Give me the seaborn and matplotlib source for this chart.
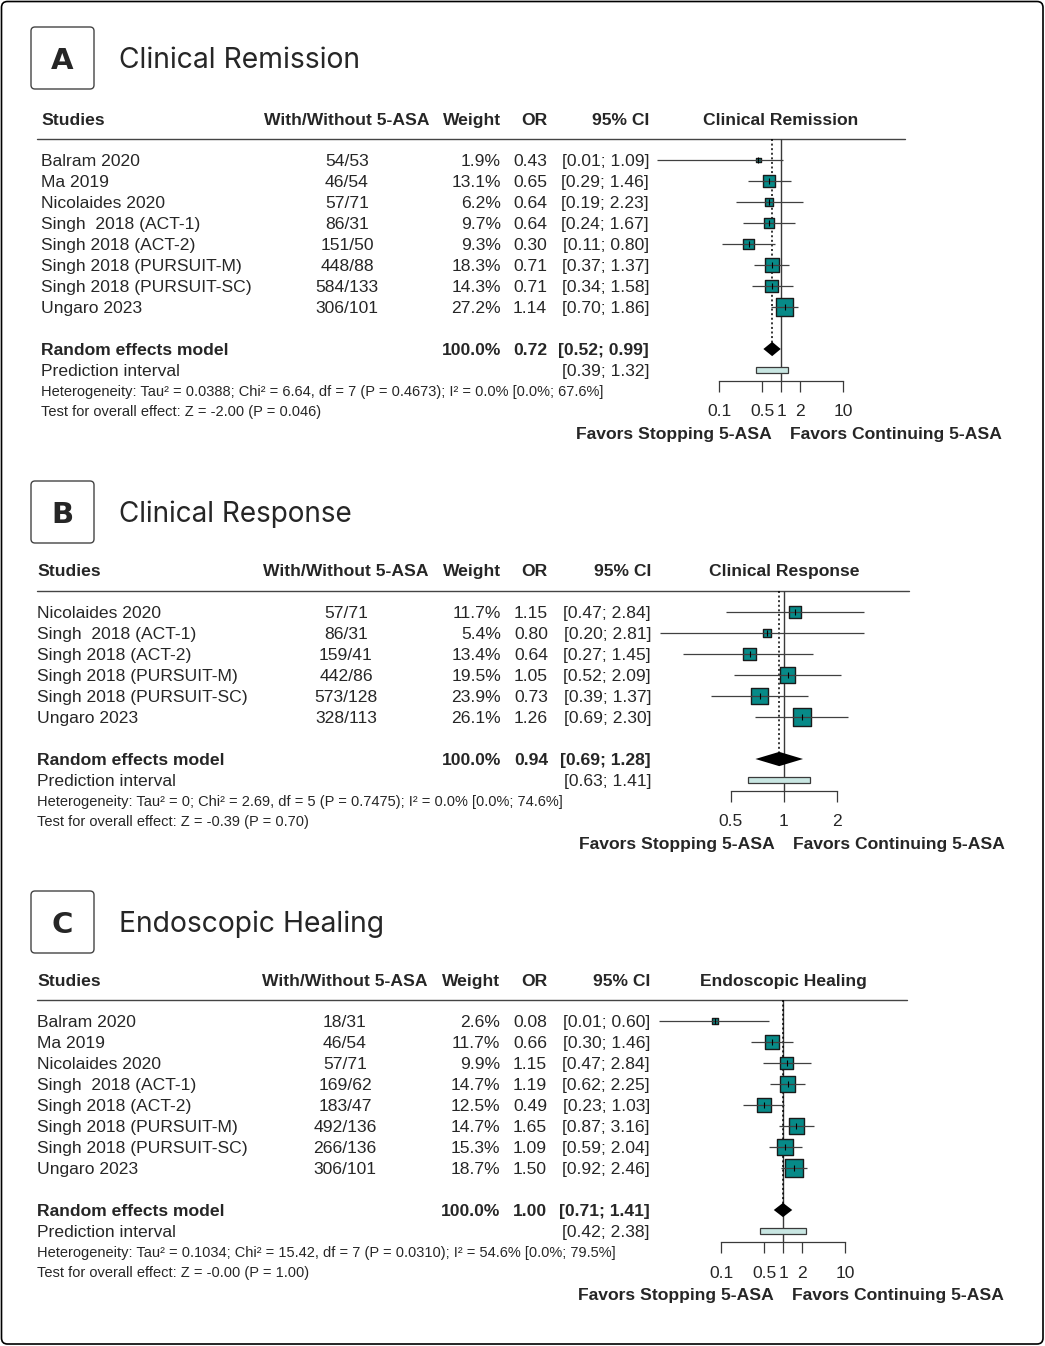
import numpy as np
import pandas as pd
import matplotlib
matplotlib.use("Agg")
import matplotlib.pyplot as plt
from matplotlib.patches import FancyBboxPatch, Rectangle
from matplotlib.ticker import NullLocator
import seaborn as sns

sns.set_theme(style="white")
plt.rcParams['font.family'] = ['Liberation Sans', 'DejaVu Sans']

# ---------------- DATA ----------------
studies_A = ["Balram 2020", "Ma 2019", "Nicolaides 2020", "Singh  2018 (ACT-1)", "Singh 2018 (ACT-2)",
             "Singh 2018 (PURSUIT-M)", "Singh 2018 (PURSUIT-SC)", "Ungaro 2023"]
n_A = ["54/53", "46/54", "57/71", "86/31", "151/50", "448/88", "584/133", "306/101"]
w_A = [1.9, 13.1, 6.2, 9.7, 9.3, 18.3, 14.3, 27.2]
or_A = [0.43, 0.65, 0.64, 0.64, 0.30, 0.71, 0.71, 1.14]
lo_A = [0.01, 0.29, 0.19, 0.24, 0.11, 0.37, 0.34, 0.70]
hi_A = [1.09, 1.46, 2.23, 1.67, 0.80, 1.37, 1.58, 1.86]
pooled_A = [0.72, 0.52, 0.99]
pi_A = [0.39, 1.32]
het_A = "Heterogeneity: Tau² = 0.0388; Chi² = 6.64, df = 7 (P = 0.4673); I² = 0.0% [0.0%; 67.6%]"
test_A = "Test for overall effect: Z = -2.00 (P = 0.046)"

studies_B = ["Nicolaides 2020", "Singh  2018 (ACT-1)", "Singh 2018 (ACT-2)", "Singh 2018 (PURSUIT-M)",
             "Singh 2018 (PURSUIT-SC)", "Ungaro 2023"]
n_B = ["57/71", "86/31", "159/41", "442/86", "573/128", "328/113"]
w_B = [11.7, 5.4, 13.4, 19.5, 23.9, 26.1]
or_B = [1.15, 0.80, 0.64, 1.05, 0.73, 1.26]
lo_B = [0.47, 0.20, 0.27, 0.52, 0.39, 0.69]
hi_B = [2.84, 2.81, 1.45, 2.09, 1.37, 2.30]
pooled_B = [0.94, 0.69, 1.28]
pi_B = [0.63, 1.41]
het_B = "Heterogeneity: Tau² = 0; Chi² = 2.69, df = 5 (P = 0.7475); I² = 0.0% [0.0%; 74.6%]"
test_B = "Test for overall effect: Z = -0.39 (P = 0.70)"

studies_C = ["Balram 2020", "Ma 2019", "Nicolaides 2020", "Singh  2018 (ACT-1)", "Singh 2018 (ACT-2)",
             "Singh 2018 (PURSUIT-M)", "Singh 2018 (PURSUIT-SC)", "Ungaro 2023"]
n_C = ["18/31", "46/54", "57/71", "169/62", "183/47", "492/136", "266/136", "306/101"]
w_C = [2.6, 11.7, 9.9, 14.7, 12.5, 14.7, 15.3, 18.7]
or_C = [0.08, 0.66, 1.15, 1.19, 0.49, 1.65, 1.09, 1.50]
lo_C = [0.01, 0.30, 0.47, 0.62, 0.23, 0.87, 0.59, 0.92]
hi_C = [0.60, 1.46, 2.84, 2.25, 1.03, 3.16, 2.04, 2.46]
pooled_C = [1.00, 0.71, 1.41]
pi_C = [0.42, 2.38]
het_C = "Heterogeneity: Tau² = 0.1034; Chi² = 15.42, df = 7 (P = 0.0310); I² = 54.6% [0.0%; 79.5%]"
test_C = "Test for overall effect: Z = -0.00 (P = 1.00)"

letters = ["A", "B", "C"]
titles = ["Clinical Remission", "Clinical Response", "Endoscopic Healing"]
ticks_wide = [0.1, 0.5, 1, 2, 10]
ticklabels_wide = ["0.1", "0.5", "1", "2", "10"]
ticks_narrow = [0.5, 1, 2]
ticklabels_narrow = ["0.5", "1", "2"]
col_headers = ["Studies", "With/Without 5-ASA", "Weight", "OR", "95% CI"]
label_left = "Favors Stopping 5-ASA"
label_right = "Favors Continuing 5-ASA"

# ---------------- STYLE / LAYOUT ----------------
W, H, DPI = 1045, 1346, 100
FS = 12.6
FS_SMALL = 10.5
TEAL = "#078a88"
PI_FILL = "#c8e6e2"
LINE = "#3a3a3a"
ROW = 21.0

layouts = [
    dict(box_top=27, header_y=119, row0=160, name_x=41, n_x=347, w_x=501, or_x=547, ci_x=649,
         x_one=781, line_right=905, xlim=(0.01, 100)),
    dict(box_top=481, header_y=570, row0=612, name_x=37, n_x=346, w_x=501, or_x=548, ci_x=651,
         x_one=784, line_right=909, xlim=(0.2, 5)),
    dict(box_top=891, header_y=980, row0=1021, name_x=37, n_x=345, w_x=500, or_x=547, ci_x=650,
         x_one=783, line_right=907, xlim=(0.01, 100)),
]

fig = plt.figure(figsize=(W / DPI, H / DPI), dpi=DPI)
bg = fig.add_axes([0, 0, 1, 1])
bg.set_xlim(0, W)
bg.set_ylim(H, 0)
bg.axis('off')

# outer border
bg.add_patch(FancyBboxPatch((1.5, 1.5), W - 3.5, H - 3.5, boxstyle="round,pad=0,rounding_size=6",
                            fc="none", ec="black", lw=1.2))

def px2pt(px):
    return px * 72.0 / DPI

def txt(x, y, s, ha="left", bold=False, size=FS, **kw):
    # y is visual centre of the capital letters
    off = 0.36 * size * DPI / 72.0
    return bg.text(x, y + off, s, ha=ha, va="baseline", fontsize=size,
                   fontweight="bold" if bold else "normal", **kw)

renderer = fig.canvas.get_renderer()

panels = [
    (studies_A, n_A, w_A, or_A, lo_A, hi_A, pooled_A, pi_A, het_A, test_A, ticks_wide, ticklabels_wide),
    (studies_B, n_B, w_B, or_B, lo_B, hi_B, pooled_B, pi_B, het_B, test_B, ticks_narrow, ticklabels_narrow),
    (studies_C, n_C, w_C, or_C, lo_C, hi_C, pooled_C, pi_C, het_C, test_C, ticks_wide, ticklabels_wide),
]

for k, (studies, nn, ww, orv, lo, hi, pooled, pi, het, test, ticks, tlabels) in enumerate(panels):
    L = layouts[k]
    n = len(studies)
    # letter box + title
    bt = L["box_top"]
    bg.add_patch(FancyBboxPatch((31, bt), 63, 62, boxstyle="round,pad=0,rounding_size=4",
                                fc="white", ec="#444444", lw=1.0))
    bg.text(62.5, bt + 31 + 11, letters[k], ha="center", va="baseline", fontsize=21,
            fontweight="bold", family=["DejaVu Sans"])
    tt = bg.text(119, bt + 31 + 10, titles[k], ha="left", va="baseline", fontsize=20,
                 family=["Inter", "DejaVu Sans"], fontweight="normal")
    target = {0: 241, 1: 233, 2: 265}[k]
    wpx = tt.get_window_extent(renderer=renderer).width
    tt.set_fontsize(20 * target / wpx)

    # header
    hy = L["header_y"]
    txt(L["name_x"], hy, col_headers[0], bold=True)
    txt(L["n_x"], hy, col_headers[1], ha="center", bold=True)
    txt(L["w_x"], hy, col_headers[2], ha="right", bold=True)
    txt(L["or_x"], hy, col_headers[3], ha="right", bold=True)
    txt(L["ci_x"], hy, col_headers[4], ha="right", bold=True)
    txt(L["x_one"], hy, titles[k], ha="center", bold=True)
    r0 = L["row0"]
    bg.plot([37, L["line_right"]], [r0 - ROW, r0 - ROW], color="#444444", lw=1.0)

    # study rows
    for i in range(n):
        y = r0 + ROW * i
        txt(L["name_x"], y, studies[i])
        txt(L["n_x"], y, nn[i], ha="center")
        txt(L["w_x"], y, f"{ww[i]:.1f}%", ha="right")
        txt(L["or_x"], y, f"{orv[i]:.2f}", ha="right")
        txt(L["ci_x"], y, f"[{lo[i]:.2f}; {hi[i]:.2f}]", ha="right")
    yr = r0 + ROW * (n + 1)
    txt(L["name_x"], yr, "Random effects model", bold=True)
    txt(L["w_x"], yr, "100.0%", ha="right", bold=True)
    txt(L["or_x"], yr, f"{pooled[0]:.2f}", ha="right", bold=True)
    txt(L["ci_x"], yr, f"[{pooled[1]:.2f}; {pooled[2]:.2f}]", ha="right", bold=True)
    yp = r0 + ROW * (n + 2)
    txt(L["name_x"], yp, "Prediction interval")
    txt(L["ci_x"], yp, f"[{pi[0]:.2f}; {pi[1]:.2f}]", ha="right")
    txt(L["name_x"], yp + ROW, het, size=FS_SMALL)
    txt(L["name_x"], yp + 2 * ROW - 1, test, size=FS_SMALL)
    txt(L["x_one"] - 9, yp + 63, label_left, ha="right", bold=True)
    txt(L["x_one"] + 9, yp + 63, label_right, ha="left", bold=True)

    # forest axes
    left = L["x_one"] - 124
    top = r0 - ROW
    bottom = r0 + ROW * (n + 2.5)
    ax = fig.add_axes([left / W, 1 - bottom / H, 248 / W, (bottom - top) / H])
    ax.patch.set_alpha(0)
    ax.set_xscale("log")
    df = pd.DataFrame({"or": orv, "lo": lo, "hi": hi, "w": ww, "row": np.arange(n)})
    sizes = (px2pt(17.5) ** 2) * df["w"] / df["w"].max()
    sns.scatterplot(data=df, x="or", y="row", marker="s", s=sizes.values, color=TEAL,
                    edgecolor="#1a1a1a", linewidth=1.0, ax=ax, zorder=3, legend=False)
    ax.hlines(df["row"], df["lo"], df["hi"], color="#404040", lw=0.9, zorder=4)
    ax.scatter(df["or"], df["row"], marker="|", s=px2pt(6) ** 2, color="black", lw=0.8, zorder=5)
    ax.axvline(1, color=LINE, lw=1.0, zorder=2)
    ax.vlines(pooled[0], -1, n + 1, color="black", lw=1.1, linestyles=(0, (1.3, 1.7)), zorder=2)
    dh = 0.34
    ax.fill([pooled[1], pooled[0], pooled[2], pooled[0]],
            [n + 1, n + 1 - dh, n + 1, n + 1 + dh], color="black", zorder=4, lw=0)
    ax.add_patch(Rectangle((pi[0], n + 2 - 0.13), pi[1] - pi[0], 0.26, fc=PI_FILL,
                           ec=LINE, lw=0.9, zorder=4))
    ax.set_xlim(*L["xlim"])
    ax.set_ylim(n + 2.5, -1)
    ax.set_xlabel("")
    ax.set_ylabel("")
    ax.set_yticks([])
    ax.set_xticks(ticks)
    ax.set_xticklabels(tlabels)
    ax.xaxis.set_minor_locator(NullLocator())
    ax.tick_params(axis="x", which="major", length=px2pt(11), width=0.9, direction="out",
                   pad=px2pt(13), labelsize=FS, color=LINE, bottom=True)
    for s in ["top", "left", "right"]:
        ax.spines[s].set_visible(False)
    ax.spines["bottom"].set_bounds(ticks[0], ticks[-1])
    ax.spines["bottom"].set_color(LINE)
    ax.spines["bottom"].set_linewidth(0.9)
    ax.grid(False)

fig.savefig("out.png", dpi=DPI)
